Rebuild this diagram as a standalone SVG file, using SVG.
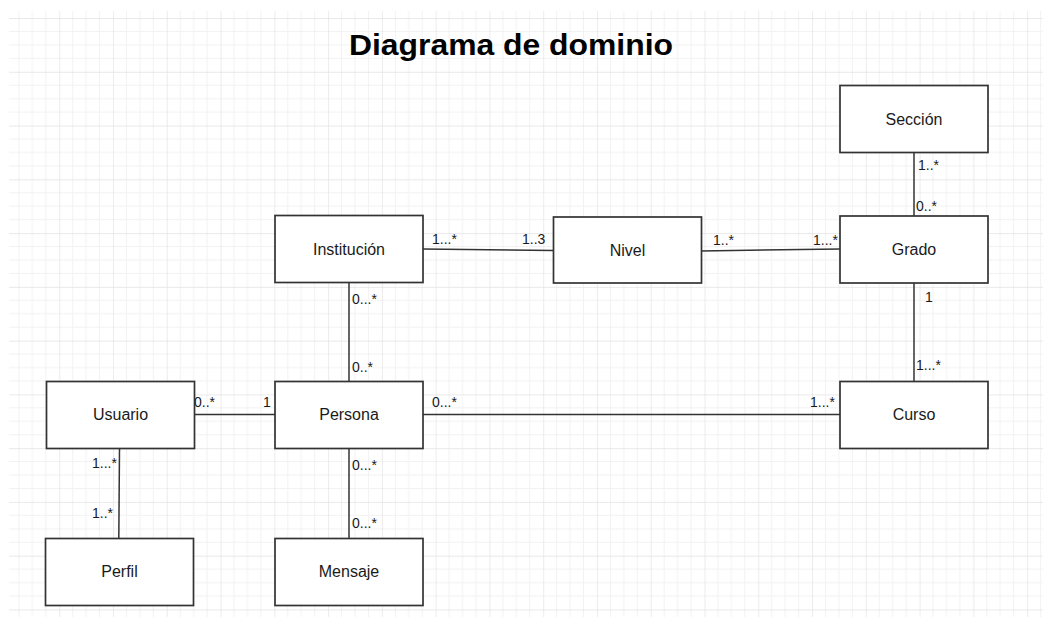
<svg xmlns="http://www.w3.org/2000/svg" width="1043" height="617" viewBox="0 0 1043 617">
<style>
.node rect{fill:#ffffff;stroke:#333333;stroke-width:1.7}
.node text{font-family:"Liberation Sans",Arial,sans-serif;font-size:16px;fill:#1a1a1a;text-anchor:middle}
.conn line{stroke:#333333;stroke-width:1.5}
.lbl{font-family:"Liberation Sans",Arial,sans-serif;font-size:14px;fill:#1a1a1a}
.title{font-family:"Liberation Sans",Arial,sans-serif;font-size:30px;font-weight:bold;fill:#000;text-anchor:middle}
</style>
<defs>
<pattern id="grid" x="5.5" y="18" width="53.77" height="53.77" patternUnits="userSpaceOnUse">
<path d="M13.44 0V53.77M26.88 0V53.77M40.33 0V53.77M0 13.44H53.77M0 26.88H53.77M0 40.33H53.77" stroke="#f2f2f2" stroke-width="1" fill="none"/>
<path d="M0 0V53.77M0 0H53.77" stroke="#e2e2e2" stroke-width="1.3" fill="none"/>
</pattern>
</defs>
<rect width="1043" height="617" fill="#ffffff"/>
<rect x="9" y="11" width="1034" height="606" fill="url(#grid)"/>
<text class="title" x="511" y="55" textLength="324" lengthAdjust="spacingAndGlyphs">Diagrama de dominio</text>
<g id="connectors" class="conn">
<line x1="423" y1="249" x2="553" y2="250.5"/>
<line x1="701" y1="251" x2="840" y2="249"/>
<line x1="914" y1="152" x2="914" y2="216"/>
<line x1="914" y1="283" x2="914" y2="381"/>
<line x1="349" y1="282" x2="349" y2="381"/>
<line x1="194" y1="414.5" x2="275" y2="414.5"/>
<line x1="423" y1="414.5" x2="840" y2="414.5"/>
<line x1="119.5" y1="448" x2="118.8" y2="538"/>
<line x1="349" y1="448" x2="349" y2="538"/>
</g>
<g id="labels">
<text class="lbl" x="432" y="244">1...*</text>
<text class="lbl" x="522" y="244">1..3</text>
<text class="lbl" x="713" y="245">1..*</text>
<text class="lbl" x="813" y="245">1...*</text>
<text class="lbl" x="918" y="170">1..*</text>
<text class="lbl" x="916" y="211">0..*</text>
<text class="lbl" x="925" y="302">1</text>
<text class="lbl" x="916" y="370">1...*</text>
<text class="lbl" x="352" y="304">0...*</text>
<text class="lbl" x="352" y="372">0..*</text>
<text class="lbl" x="194" y="407">0..*</text>
<text class="lbl" x="263" y="407">1</text>
<text class="lbl" x="432" y="407">0...*</text>
<text class="lbl" x="810" y="407">1...*</text>
<text class="lbl" x="92" y="468">1...*</text>
<text class="lbl" x="92" y="518">1..*</text>
<text class="lbl" x="352" y="470">0...*</text>
<text class="lbl" x="352" y="528">0...*</text>
</g>
<g id="seccion" class="node"><rect x="840" y="85.5" width="148" height="67"/><text x="914" y="125">Sección</text></g>
<g id="grado" class="node"><rect x="840" y="216" width="148" height="67"/><text x="914" y="255">Grado</text></g>
<g id="nivel" class="node"><rect x="553.5" y="217" width="148" height="66"/><text x="627.5" y="256">Nivel</text></g>
<g id="institucion" class="node"><rect x="275" y="215.5" width="148" height="67"/><text x="349" y="255">Institución</text></g>
<g id="usuario" class="node"><rect x="46.5" y="381.5" width="148" height="67"/><text x="120.5" y="420">Usuario</text></g>
<g id="persona" class="node"><rect x="275" y="381.5" width="148" height="67"/><text x="349" y="420">Persona</text></g>
<g id="curso" class="node"><rect x="840" y="381.5" width="148" height="67"/><text x="914" y="420">Curso</text></g>
<g id="perfil" class="node"><rect x="45.5" y="538.5" width="148" height="67"/><text x="119.5" y="577">Perfil</text></g>
<g id="mensaje" class="node"><rect x="275" y="538.5" width="148" height="67"/><text x="349" y="577">Mensaje</text></g>
</svg>
